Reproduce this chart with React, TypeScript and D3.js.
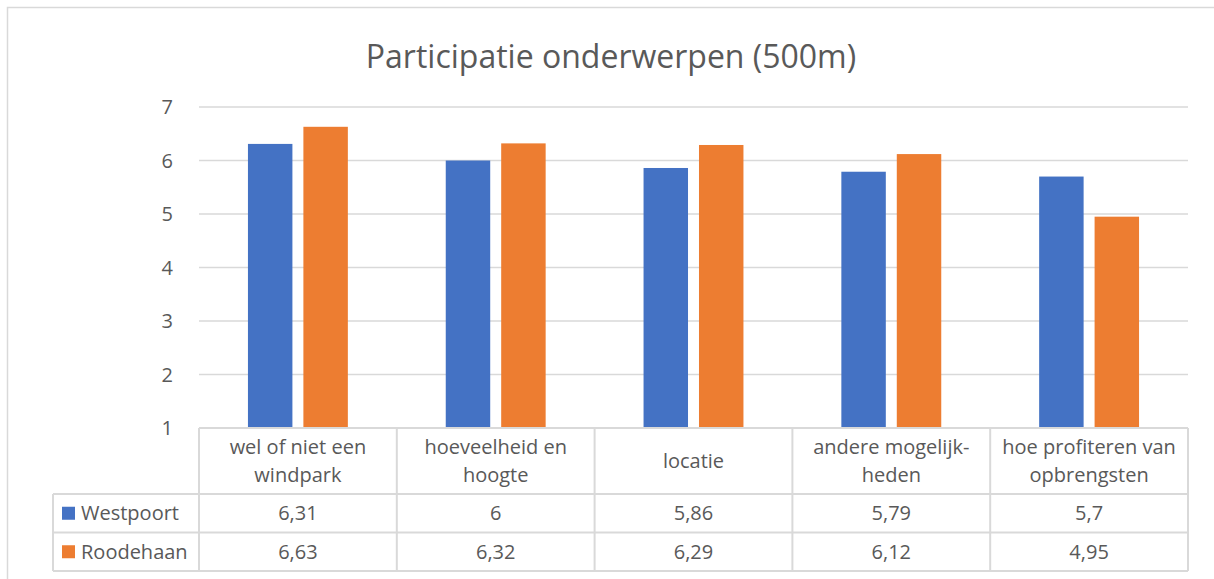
import React, { useEffect, useRef } from 'react';
import * as d3 from 'd3';

const title = 'Participatie onderwerpen (500m)';
const categories = [
  ['wel of niet een', 'windpark'],
  ['hoeveelheid en', 'hoogte'],
  ['locatie'],
  ['andere mogelijk-', 'heden'],
  ['hoe profiteren van', 'opbrengsten'],
];
const seriesNames = ['Westpoort', 'Roodehaan'];
const westpoort = [6.31, 6, 5.86, 5.79, 5.7];
const roodehaan = [6.63, 6.32, 6.29, 6.12, 4.95];
const seriesColors = ['#4472C4', '#ED7D31'];
const yTicks = [1, 2, 3, 4, 5, 6, 7];

const App = () => {
  const chartRef = useRef(null);

  useEffect(() => {
    document.body.style.margin = '0';
    const W = 1214;
    const H = 579;
    const plot = { left: 199, right: 1188, top: 107, bottom: 428 };
    const rowH = { cat: 66, val: 38.5 };
    const tableLeft = 53;
    const textColor = '#595959';
    const lineColor = '#D9D9D9';
    const font = "'Open Sans', sans-serif";
    const fs = '20px';

    d3.select(chartRef.current).selectAll('*').remove();

    const svg = d3
      .select(chartRef.current)
      .append('svg')
      .attr('width', W)
      .attr('height', H)
      .style('display', 'block')
      .style('font-family', font);

    svg.append('rect').attr('width', W).attr('height', H).attr('fill', '#fff');

    // outer chart border (cut off at right/bottom)
    svg
      .append('rect')
      .attr('x', 7.5)
      .attr('y', 7.5)
      .attr('width', W + 10)
      .attr('height', H + 10)
      .attr('fill', 'none')
      .attr('stroke', lineColor)
      .attr('stroke-width', 1.5);

    svg
      .append('text')
      .attr('x', 611)
      .attr('y', 68)
      .attr('text-anchor', 'middle')
      .style('font-size', '32px')
      .style('fill', textColor)
      .text(title);

    const keys = categories.map((c) => c.join(' '));
    const x = d3.scaleBand().domain(keys).range([plot.left, plot.right]);
    const x1 = d3
      .scaleBand()
      .domain(seriesNames)
      .range([0, x.bandwidth()])
      .paddingInner(0.198)
      .paddingOuter(0.883);
    const y = d3.scaleLinear().domain([1, 7]).range([plot.bottom, plot.top]);

    // gridlines
    svg
      .append('g')
      .selectAll('line')
      .data(yTicks.slice(1))
      .enter()
      .append('line')
      .attr('x1', plot.left)
      .attr('x2', plot.right)
      .attr('y1', (d) => y(d))
      .attr('y2', (d) => y(d))
      .attr('stroke', lineColor)
      .attr('stroke-width', 1.5);

    svg
      .append('g')
      .selectAll('text')
      .data(yTicks)
      .enter()
      .append('text')
      .attr('x', 173)
      .attr('y', (d) => y(d))
      .attr('dy', '0.35em')
      .attr('text-anchor', 'end')
      .style('font-size', fs)
      .style('fill', textColor)
      .text((d) => d);

    const values = [westpoort, roodehaan];
    values.forEach((vals, si) => {
      svg
        .append('g')
        .attr('fill', seriesColors[si])
        .selectAll('rect')
        .data(vals)
        .enter()
        .append('rect')
        .attr('x', (d, i) => x(keys[i]) + x1(seriesNames[si]))
        .attr('width', x1.bandwidth())
        .attr('y', (d) => y(d))
        .attr('height', (d) => y(1) - y(d));
    });

    // data table
    const t = svg.append('g');
    const catBottom = plot.bottom + rowH.cat;
    const row1Bottom = catBottom + rowH.val;
    const row2Bottom = row1Bottom + rowH.val;
    const border = (x1v, y1v, x2v, y2v) =>
      t
        .append('line')
        .attr('x1', x1v)
        .attr('y1', y1v)
        .attr('x2', x2v)
        .attr('y2', y2v)
        .attr('stroke', lineColor)
        .attr('stroke-width', 2);

    border(plot.left, plot.bottom, plot.right, plot.bottom);
    border(tableLeft, catBottom, plot.right, catBottom);
    border(tableLeft, row1Bottom, plot.right, row1Bottom);
    border(tableLeft, row2Bottom, plot.right, row2Bottom);
    border(tableLeft, catBottom, tableLeft, row2Bottom);
    keys.forEach((k) => border(x(k), plot.bottom, x(k), row2Bottom));
    border(plot.right, plot.bottom, plot.right, row2Bottom);

    categories.forEach((lines, i) => {
      const cx = x(keys[i]) + x.bandwidth() / 2;
      const cy = plot.bottom + rowH.cat / 2;
      const lh = 28;
      lines.forEach((ln, j) => {
        t.append('text')
          .attr('x', cx)
          .attr('y', cy + (j - (lines.length - 1) / 2) * lh)
          .attr('dy', '0.35em')
          .attr('text-anchor', 'middle')
          .style('font-size', fs)
          .style('fill', textColor)
          .text(ln);
      });
    });

    values.forEach((vals, si) => {
      const cy = catBottom + rowH.val * si + rowH.val / 2;
      t.append('rect')
        .attr('x', 62)
        .attr('y', cy - 6.5)
        .attr('width', 13)
        .attr('height', 13)
        .attr('fill', seriesColors[si]);
      t.append('text')
        .attr('x', 81)
        .attr('y', cy)
        .attr('dy', '0.35em')
        .style('font-size', fs)
        .style('fill', textColor)
        .text(seriesNames[si]);
      vals.forEach((v, i) => {
        t.append('text')
          .attr('x', x(keys[i]) + x.bandwidth() / 2)
          .attr('y', cy)
          .attr('dy', '0.35em')
          .attr('text-anchor', 'middle')
          .style('font-size', fs)
          .style('fill', textColor)
          .text(String(v).replace('.', ','));
      });
    });
  }, []);

  return <div ref={chartRef}></div>;
};

export default App;
